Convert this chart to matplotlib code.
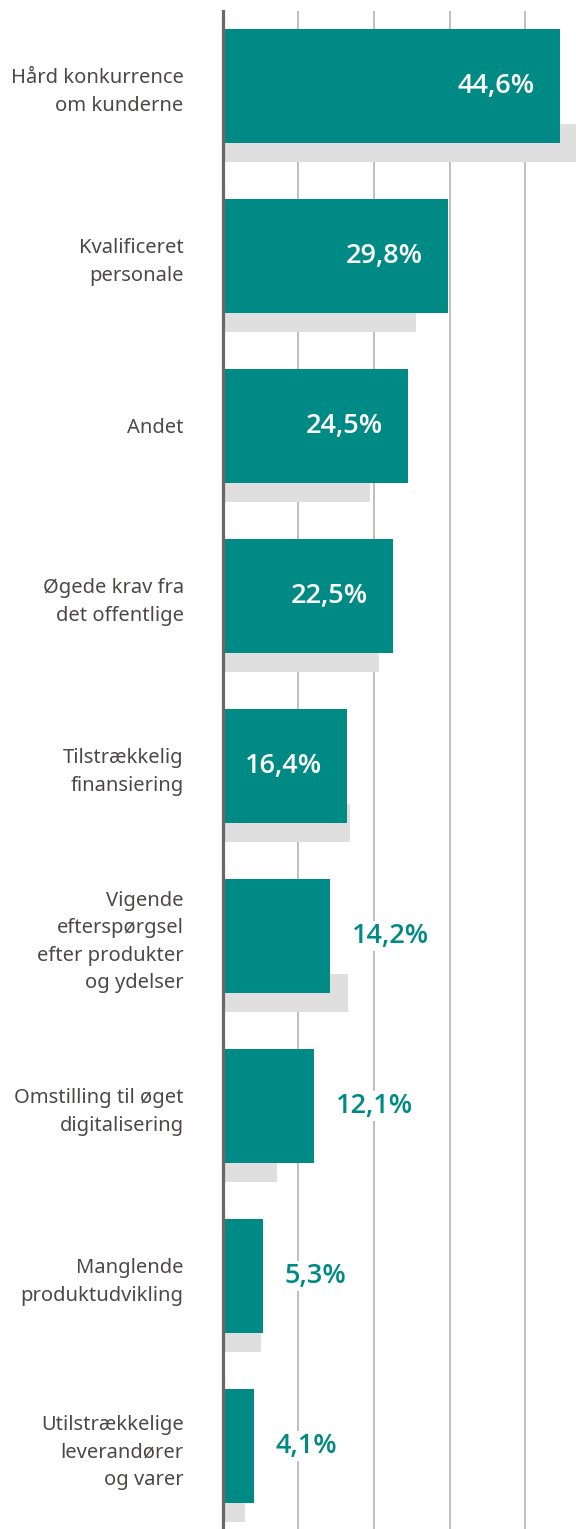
import matplotlib.pyplot as plt
import numpy as np

categories = [
    'Hård konkurrence\nom kunderne',
    'Kvalificeret\npersonale',
    'Andet',
    'Øgede krav fra\ndet offentlige',
    'Tilstrækkelig\nfinansiering',
    'Vigende\nefterspørgsel\nefter produkter\nog ydelser',
    'Omstilling til øget\ndigitalisering',
    'Manglende\nproduktudvikling',
    'Utilstrækkelige\nleverandører\nog varer',
]
values = [44.6, 29.8, 24.5, 22.5, 16.4, 14.2, 12.1, 5.3, 4.1]
previous = [48.0, 25.5, 19.5, 20.7, 16.8, 16.6, 7.2, 5.1, 3.0]
value_labels = ['44,6%', '29,8%', '24,5%', '22,5%', '16,4%', '14,2%', '12,1%', '5,3%', '4,1%']

teal = '#008a85'
grey = '#e0dfe0'
text_grey = '#4d4848'

plt.rcParams['font.family'] = ['Noto Sans', 'DejaVu Sans']
bold_font = ['Open Sans', 'DejaVu Sans']

W, H = 576, 1529
fig = plt.figure(figsize=(W / 100, H / 100), dpi=100)
left = 222.6 / W
top = 10.7 / H
ax = fig.add_axes([left, 0, 1 - left, 1 - top])

pos = np.arange(len(categories))
ax.barh(pos + 0.335, previous, height=0.222, color=grey, zorder=2)
ax.barh(pos, values, height=0.669, color=teal, zorder=3)

for i, (v, lab) in enumerate(zip(values, value_labels)):
    if v > 15:
        ax.annotate(lab, (v, i), xytext=(-25, 0), textcoords='offset pixels',
                    ha='right', va='center', color='white', fontsize=19.5,
                    family=bold_font, fontweight=600, zorder=5)
    else:
        ax.annotate(lab, (v, i), xytext=(22, 0), textcoords='offset pixels',
                    ha='left', va='center', color=teal, fontsize=19.5,
                    family=bold_font, fontweight=600, zorder=5,
                    bbox=dict(facecolor='white', edgecolor='none', pad=1))

ax.set_xlim(0, 46.7)
ax.set_ylim(8.489, -0.442)
ax.set_xticks([10, 20, 30, 40])
ax.xaxis.grid(True, color='#b3adad', linewidth=1.1, zorder=1)
ax.set_axisbelow(True)
ax.tick_params(axis='x', length=0, labelbottom=False)
ax.set_yticks(pos)
ax.set_yticklabels(categories, fontsize=14.5, color=text_grey, linespacing=1.5)
ax.tick_params(axis='y', length=0, pad=28)

for s in ['top', 'right', 'bottom']:
    ax.spines[s].set_visible(False)
ax.spines['left'].set_color('#6e6766')
ax.spines['left'].set_linewidth(2.3)
ax.spines['left'].set_zorder(6)

fig.savefig('out.png', dpi=100)
